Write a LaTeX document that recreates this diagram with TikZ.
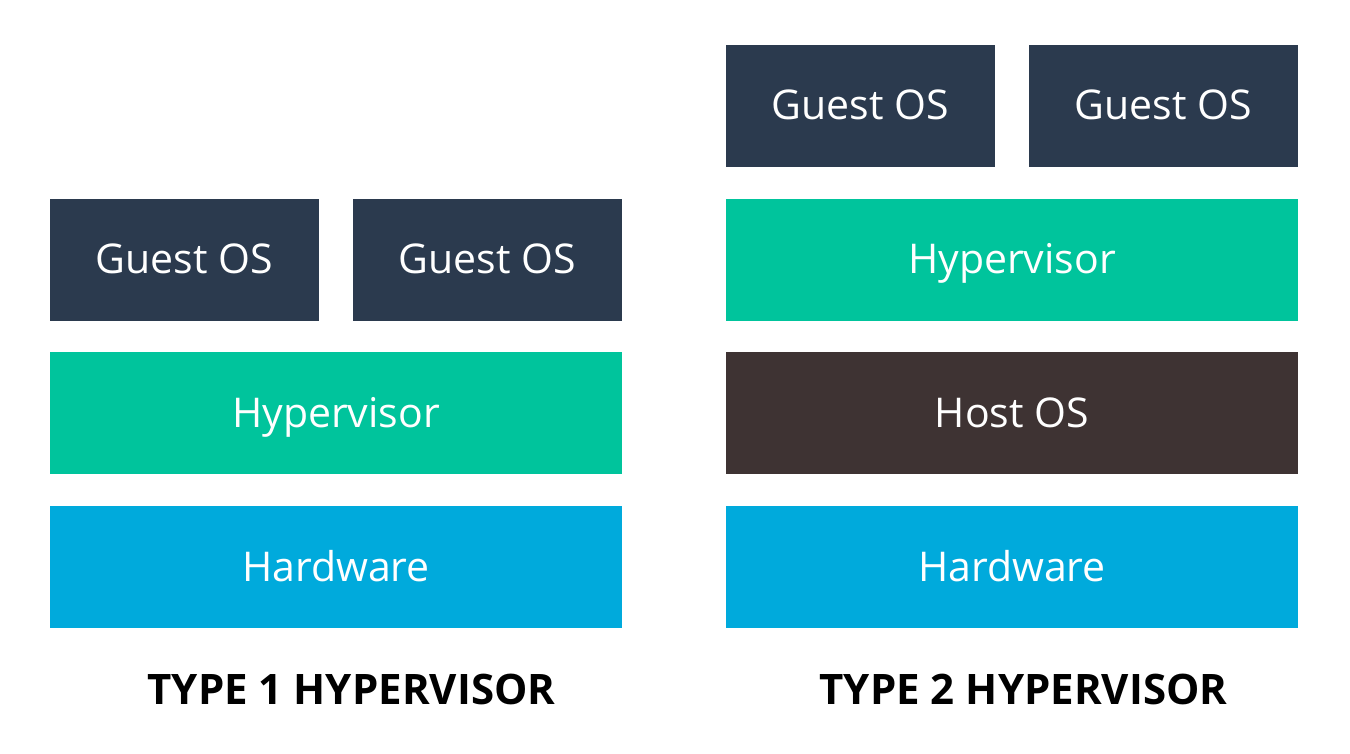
\documentclass[tikz,border=0pt]{standalone}
\usepackage{fontspec}
\setmainfont{Open Sans}
\usetikzlibrary{positioning}
\definecolor{guestblue}{HTML}{2B3A4E}
\definecolor{hypgreen}{HTML}{00C49C}
\definecolor{hwblue}{HTML}{00AADC}
\definecolor{hostbrown}{HTML}{3E3333}
\begin{document}
\begin{tikzpicture}[x=0.5pt,y=-0.5pt,
    layer/.style={rectangle,inner sep=0pt,text=white,minimum height=61pt,text height=14pt,text depth=0pt,font=\fontsize{20.5}{24}\selectfont},
    halfbox/.style={layer,fill=guestblue,minimum width=134.5pt},
    fullbox/.style={layer,minimum width=286pt},
    caption/.style={font=\fontsize{21}{25}\bfseries\selectfont}]
    \useasboundingbox[fill=white] (0,0) rectangle (1350,754);
    % type 1
    \node[halfbox] (guestA) at (184.5,260) {Guest OS};
    \node[halfbox] (guestB) at (487.5,260) {Guest OS};
    \node[fullbox,fill=hypgreen] (hypA) at (336,413) {Hypervisor};
    \node[fullbox,fill=hwblue] (hwA) at (336,567) {Hardware};
    \node[caption] (typeA) at (351.5,689) {TYPE 1 HYPERVISOR};
    % type 2
    \node[halfbox] (guestC) at (860.5,106) {Guest OS};
    \node[halfbox] (guestD) at (1163.5,106) {Guest OS};
    \node[fullbox,fill=hypgreen] (hypB) at (1012,260) {Hypervisor};
    \node[fullbox,fill=hostbrown] (hostB) at (1012,413) {Host OS};
    \node[fullbox,fill=hwblue] (hwB) at (1012,567) {Hardware};
    \node[caption] (typeB) at (1023.5,689) {TYPE 2 HYPERVISOR};
\end{tikzpicture}
\end{document}
